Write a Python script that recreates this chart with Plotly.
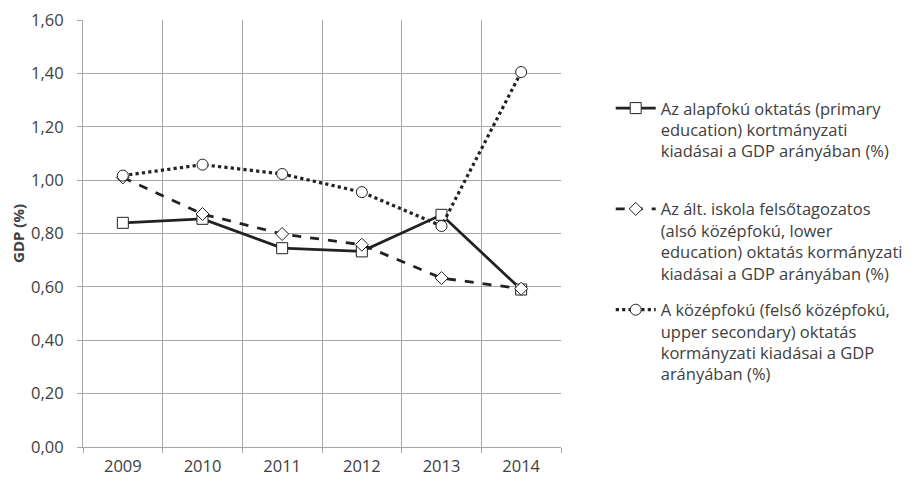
import plotly.graph_objects as go

years = ["2009", "2010", "2011", "2012", "2013", "2014"]
primary = [0.84, 0.855, 0.745, 0.733, 0.87, 0.59]
lower = [1.01, 0.873, 0.798, 0.758, 0.633, 0.593]
upper = [1.017, 1.058, 1.023, 0.955, 0.828, 1.405]

names = [
    "Az alapfokú oktatás (primary<br>education) kortmányzati<br>kiadásai a GDP arányában (%)<br> ",
    "Az ált. iskola felsőtagozatos<br>(alsó középfokú, lower<br>education) oktatás kormányzati<br>kiadásai a GDP arányában (%)",
    "A középfokú (felső középfokú,<br>upper secondary) oktatás<br>kormányzati kiadásai a GDP<br>arányában (%)",
]
line_col = "#222222"

fig = go.Figure()
fig.add_trace(go.Scatter(
    x=years, y=primary, name=names[0], legendgroup="a", mode="lines+markers",
    line=dict(color=line_col, width=2.8, dash="solid"),
    marker=dict(symbol="square", size=11, color="white", line=dict(color=line_col, width=1)),
))
fig.add_trace(go.Scatter(
    x=years, y=lower, name=names[1], legendgroup="b", mode="lines+markers",
    line=dict(color=line_col, width=2.8, dash="dash"),
    marker=dict(symbol="diamond", size=10, color="white", line=dict(color=line_col, width=1)),
))
fig.add_trace(go.Scatter(
    x=years, y=upper, name=names[2], legendgroup="c", mode="lines+markers",
    line=dict(color=line_col, width=3.2, dash="dot"),
    marker=dict(symbol="circle", size=11, color="white", line=dict(color=line_col, width=1)),
))

grid = "#a6a6a6"
fs = 16.5
fig.update_layout(
    width=912, height=482,
    margin=dict(l=75, r=359, t=12, b=43),
    paper_bgcolor="white", plot_bgcolor="white",
    separators=", ",
    font=dict(family="Open Sans, Noto Sans, sans-serif", size=fs, color="#404040"),
    legend=dict(
        x=1.104, y=0.834, xanchor="left", yanchor="top",
        valign="top", tracegroupgap=12,
        font=dict(size=fs, color="#404040"),
        itemwidth=40,
    ),
    xaxis=dict(
        type="category", tickson="boundaries", showgrid=True, gridcolor=grid, gridwidth=1,
        showline=True, linecolor=grid, ticks="outside", ticklen=5, tickcolor=grid,
        tickfont=dict(size=fs, color="#404040"), range=[-0.5, 5.5], automargin=False,
        ticklabelstandoff=4,
    ),
    yaxis=dict(
        range=[0, 1.6], dtick=0.2, tickformat=".2f", showgrid=True, gridcolor=grid, gridwidth=1,
        showline=True, linecolor=grid, ticks="outside", ticklen=5, tickcolor=grid,
        tickfont=dict(size=fs, color="#404040"), zeroline=False, ticklabelstandoff=10,
        automargin=False, ticklabeloverflow="allow",
        title=dict(text="<b>GDP (%)</b>", font=dict(size=15, color="#404040"), standoff=3),
    ),
)
fig.write_html("out.html")
